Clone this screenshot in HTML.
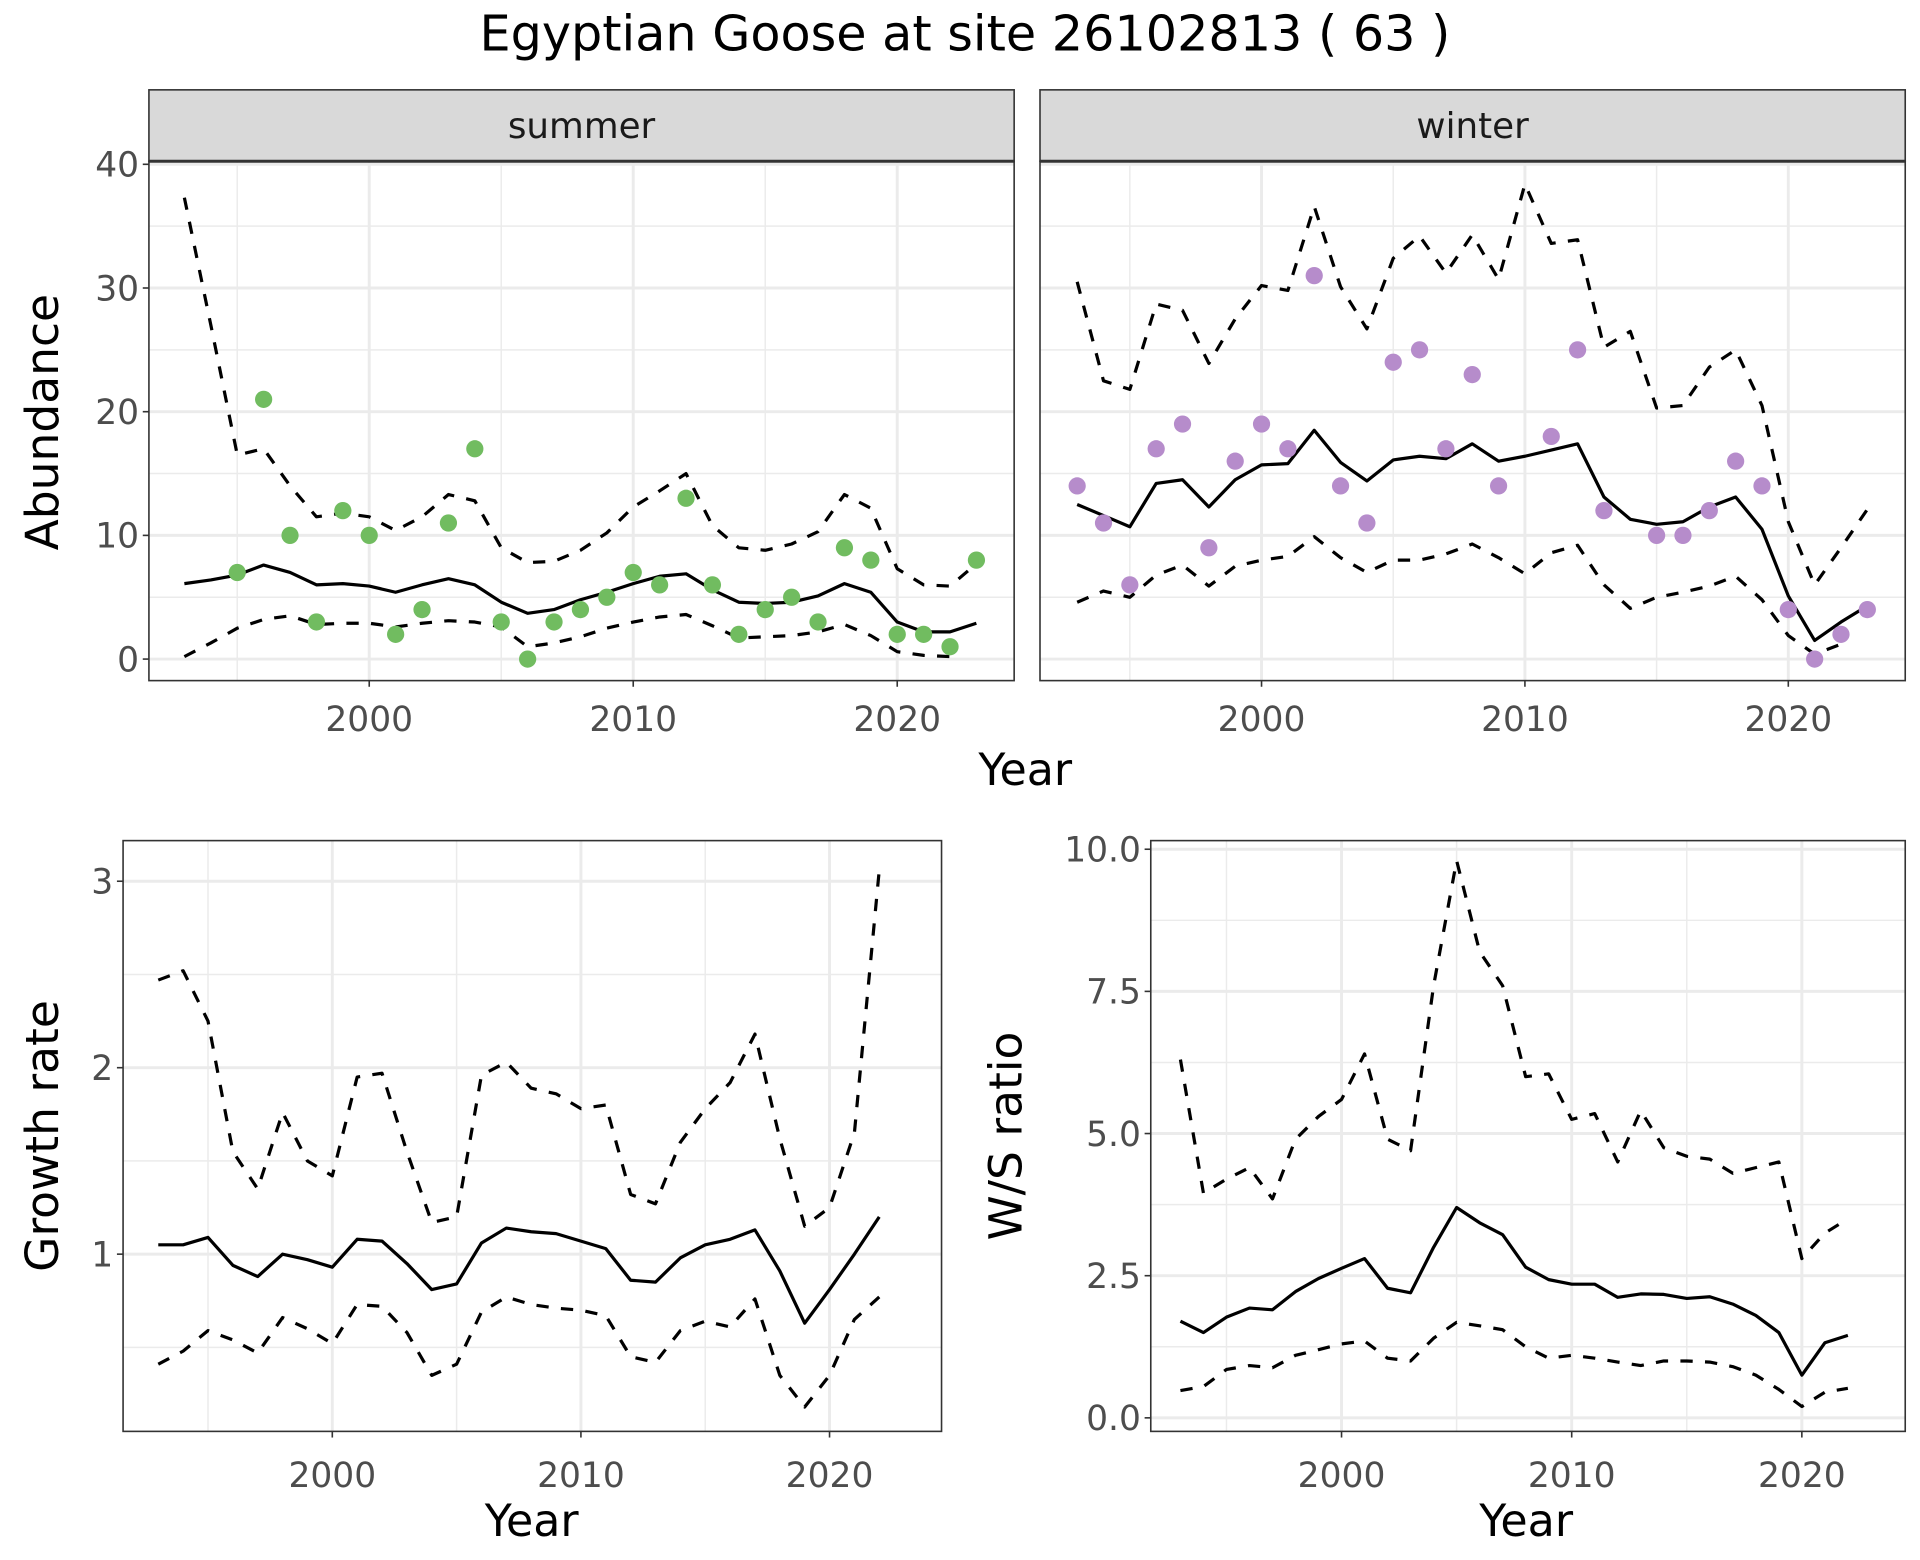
<!DOCTYPE html>
<html><head><meta charset="utf-8"><style>
html,body{margin:0;padding:0;background:#fff}
svg{display:block;font-family:"DejaVu Sans","Liberation Sans",sans-serif}
</style></head><body>
<svg id="chart" width="1920" height="1560" viewBox="0 0 1560 1267.5" xmlns="http://www.w3.org/2000/svg"></svg>
<script>
const years = [1993,1994,1995,1996,1997,1998,1999,2000,2001,2002,2003,2004,2005,2006,2007,2008,2009,2010,2011,2012,2013,2014,2015,2016,2017,2018,2019,2020,2021,2022,2023];
const summerObs = [null,null,7,21,10,3,12,10,2,4,11,17,3,0,3,4,5,7,6,13,6,2,4,5,3,9,8,2,2,1,8];
const summerMean = [6.1,6.4,6.8,7.6,7.0,6.0,6.1,5.9,5.4,6.0,6.5,6.0,4.6,3.7,4.0,4.8,5.4,6.1,6.7,6.9,5.6,4.6,4.5,4.6,5.1,6.1,5.4,3.0,2.2,2.2,2.9];
const summerUpper = [37.3,27,16.5,17,14,11.5,11.8,11.5,10.4,11.5,13.3,12.8,9,7.8,7.9,8.8,10.2,12.3,13.6,15,10.8,9.0,8.8,9.3,10.3,13.3,12.2,7.3,6.0,5.9,7.7];
const summerLower = [0.2,1.3,2.5,3.2,3.5,2.8,2.9,2.9,2.6,2.9,3.1,3.0,2.6,1.0,1.3,1.8,2.5,3.0,3.4,3.6,2.7,1.7,1.8,1.9,2.2,2.8,1.9,0.6,0.3,0.2,null];
const winterObs = [14,11,6,17,19,9,16,19,17,31,14,11,24,25,17,23,14,null,18,25,12,null,10,10,12,16,14,4,0,2,4];
const winterMean = [12.5,11.6,10.7,14.2,14.5,12.3,14.5,15.7,15.8,18.5,15.9,14.4,16.1,16.4,16.2,17.4,16.0,16.4,16.9,17.4,13.1,11.3,10.9,11.1,12.3,13.1,10.5,5.1,1.5,3.0,4.3];
const winterUpper = [30.5,22.5,21.8,28.7,28.2,23.9,27.5,30.2,29.8,36.6,30.1,26.7,32.4,34.2,31.2,34.3,30.7,38.4,33.6,33.9,25.2,26.5,20.3,20.5,23.6,25.0,20.5,11.1,6.0,9.0,12.1];
const winterLower = [4.6,5.5,5.0,6.8,7.6,5.9,7.5,8.0,8.3,9.9,8.2,7.0,8.0,8.0,8.5,9.3,8.2,6.9,8.6,9.2,6.0,4.1,5.0,5.4,5.9,6.7,4.8,1.9,0.4,1.2,null];
const growthMean = [1.05,1.05,1.09,0.94,0.88,1.00,0.97,0.93,1.08,1.07,0.95,0.81,0.84,1.06,1.14,1.12,1.11,1.07,1.03,0.86,0.85,0.98,1.05,1.08,1.13,0.91,0.63,0.81,1.00,1.20];
const growthUpper = [2.47,2.52,2.25,1.55,1.35,1.76,1.50,1.42,1.95,1.97,1.55,1.17,1.20,1.96,2.03,1.89,1.86,1.78,1.80,1.32,1.27,1.60,1.78,1.92,2.18,1.62,1.15,1.25,1.65,3.06];
const growthLower = [0.41,0.48,0.59,0.54,0.47,0.66,0.60,0.52,0.73,0.72,0.58,0.35,0.41,0.69,0.77,0.73,0.71,0.70,0.67,0.45,0.42,0.59,0.64,0.61,0.76,0.35,0.18,0.35,0.65,0.77];
const ratioMean = [1.7,1.5,1.77,1.93,1.9,2.22,2.45,2.63,2.8,2.28,2.2,3.0,3.7,3.43,3.22,2.65,2.43,2.35,2.35,2.12,2.18,2.17,2.1,2.13,2.0,1.8,1.5,0.75,1.32,1.45];
const ratioUpper = [6.3,3.95,4.2,4.4,3.85,4.9,5.3,5.6,6.4,4.9,4.7,7.6,9.8,8.2,7.6,6.0,6.05,5.25,5.35,4.5,5.4,4.75,4.6,4.55,4.3,4.4,4.5,2.8,3.25,3.5];
const ratioLower = [0.48,0.55,0.85,0.92,0.88,1.1,1.2,1.3,1.35,1.05,1.0,1.4,1.68,1.62,1.55,1.25,1.05,1.1,1.05,0.98,0.92,1.0,1.0,0.98,0.9,0.75,0.5,0.2,0.45,0.52];
const xTicks = [2000,2010,2020];
const abundTicks = [0,10,20,30,40];
const growthTicks = [1,2,3];
const ratioTicks = [0,2.5,5,7.5,10];
const ratioTickLabels = ["0.0","2.5","5.0","7.5","10.0"];

const NS="http://www.w3.org/2000/svg";
const svg=document.getElementById('chart');
function el(tag,attrs,parent){const e=document.createElementNS(NS,tag);for(const k in attrs)e.setAttribute(k,attrs[k]);(parent||svg).appendChild(e);return e;}
function txt(s,attrs,parent){const e=el('text',attrs,parent);e.textContent=s;return e;}
const TICK=28, AXT=36;

function panel(p){
  const g=el('g',{});
  
  
  el('rect',{x:p.x0,y:p.y0,width:p.x1-p.x0,height:p.y1-p.y0,fill:'#fff'},g);
  for(let i=0;i<p.yt.length-1;i++){const m=(p.yt[i]+p.yt[i+1])/2;const y=p.ys(m);if(y>p.y0&&y<p.y1)el('line',{x1:p.x0,x2:p.x1,y1:y,y2:y,stroke:'#ebebeb','stroke-width':1.2},g);}
  if(p.yminExtra)p.yminExtra.forEach(m=>{const y=p.ys(m);if(y>p.y0&&y<p.y1)el('line',{x1:p.x0,x2:p.x1,y1:y,y2:y,stroke:'#ebebeb','stroke-width':1.2},g);});
  [1995,2005,2015].forEach(yr=>{const x=p.xs(yr);el('line',{x1:x,x2:x,y1:p.y0,y2:p.y1,stroke:'#ebebeb','stroke-width':1.2},g);});
  p.yt.forEach(v=>{const y=p.ys(v);if(y>=p.y0&&y<=p.y1)el('line',{x1:p.x0,x2:p.x1,y1:y,y2:y,stroke:'#ebebeb','stroke-width':2.4},g);});
  xTicks.forEach(yr=>{const x=p.xs(yr);el('line',{x1:x,x2:x,y1:p.y0,y2:p.y1,stroke:'#ebebeb','stroke-width':2.4},g);});
  return g;
}
function line(g,p,vals,dash,name){
  let d='';let pen=false;
  vals.forEach((v,i)=>{if(v==null){pen=false;return;}const x=p.xs(years[i]),y=p.ys(v);d+=(pen?'L':'M')+x.toFixed(1)+' '+y.toFixed(1);pen=true;});
  const e=el('path',{d:d,fill:'none',stroke:'#000','stroke-width':2.6,'stroke-linejoin':'round'},g);
  if(dash)e.setAttribute('stroke-dasharray','10 10');
  
  
}
function frame(g,p){el('rect',{x:p.x0,y:p.y0,width:p.x1-p.x0,height:p.y1-p.y0,fill:'none',stroke:'#333','stroke-width':1.3},g);}
function xaxis(p,labY){
  xTicks.forEach(yr=>{const x=p.xs(yr);el('line',{x1:x,x2:x,y1:p.y1,y2:p.y1+5,stroke:'#333','stroke-width':1.3});
    const t=txt(String(yr),{x:x,y:labY,'text-anchor':'middle','font-size':TICK,fill:'#4d4d4d'});
    
    });
}
function yaxis(p,labels){
  p.yt.forEach((v,i)=>{const y=p.ys(v);el('line',{x1:p.x0-5,x2:p.x0,y1:y,y2:y,stroke:'#333','stroke-width':1.3});
    const t=txt(labels[i],{x:p.x0-8,y:y+10,'text-anchor':'end','font-size':TICK,fill:'#4d4d4d'});
    
    });
}

const title=txt('Egyptian Goose at site 26102813 ( 63 )',{x:784,y:41,'text-anchor':'middle','font-size':40,fill:'#000'});



const aY=v=>535.5-v*10.05;
const sumP={name:'summer',x0:121,x1:824,y0:131,y1:553,xs:yr=>300+(yr-2000)*21.45,ys:aY,yt:abundTicks};
const winP={name:'winter',x0:845,x1:1548,y0:131,y1:553,xs:yr=>1025+(yr-2000)*21.4,ys:aY,yt:abundTicks};
[[sumP,summerObs,summerMean,summerUpper,summerLower,'#71bc60'],[winP,winterObs,winterMean,winterUpper,winterLower,'#b68ccb']].forEach(([p,obs,m,u,l,col])=>{
  const g=panel(p);
  line(g,p,u,true,p.name+'-upper-ci');
  line(g,p,l,true,p.name+'-lower-ci');
  line(g,p,m,false,p.name+'-mean-line');
  obs.forEach((v,i)=>{if(v==null)return;const c=el('circle',{cx:p.xs(years[i]),cy:p.ys(v),r:7,fill:col},g);
    
    });
  frame(g,p);
  const s=el('rect',{x:p.x0,y:73,width:p.x1-p.x0,height:58,fill:'#d9d9d9',stroke:'#333','stroke-width':1.3});
  
  
  el('line',{x1:p.x0,x2:p.x1,y1:131,y2:131,stroke:'#333','stroke-width':2.5});
  const st=txt(p.name,{x:(p.x0+p.x1)/2,y:112,'text-anchor':'middle','font-size':29,fill:'#1a1a1a'});
  
  
  xaxis(p,594);
});
yaxis(sumP,abundTicks.map(String));
const t1=txt('Year',{x:833,y:638,'text-anchor':'middle','font-size':AXT});


const t2=txt('Abundance',{x:0,y:0,'text-anchor':'middle','font-size':AXT+1,transform:'translate(47,343) rotate(-90)'});



const grP={name:'growth',x0:100,x1:765,y0:683,y1:1163,xs:yr=>270+(yr-2000)*20.2,ys:v=>1019-(v-1)*151.5,yt:growthTicks,yminExtra:[0.5]};
{const g=panel(grP);line(g,grP,growthUpper,true,'growth-upper-ci');line(g,grP,growthLower,true,'growth-lower-ci');line(g,grP,growthMean,false,'growth-mean-line');frame(g,grP);xaxis(grP,1208);yaxis(grP,growthTicks.map(String));}
const t3=txt('Year',{x:432,y:1248,'text-anchor':'middle','font-size':AXT});


const t4=txt('Growth rate',{x:0,y:0,'text-anchor':'middle','font-size':AXT+1,transform:'translate(47,923) rotate(-90)'});



const raP={name:'ratio',x0:935,x1:1548,y0:683,y1:1163,xs:yr=>1090+(yr-2000)*18.7,ys:v=>1152-v*46.2,yt:ratioTicks};
{const g=panel(raP);line(g,raP,ratioUpper,true,'ratio-upper-ci');line(g,raP,ratioLower,true,'ratio-lower-ci');line(g,raP,ratioMean,false,'ratio-mean-line');frame(g,raP);xaxis(raP,1208);yaxis(raP,ratioTickLabels);}
const t5=txt('Year',{x:1240,y:1248,'text-anchor':'middle','font-size':AXT});


const t6=txt('W/S ratio',{x:0,y:0,'text-anchor':'middle','font-size':AXT+1,transform:'translate(830,923) rotate(-90)'});


</script>
</body></html>
